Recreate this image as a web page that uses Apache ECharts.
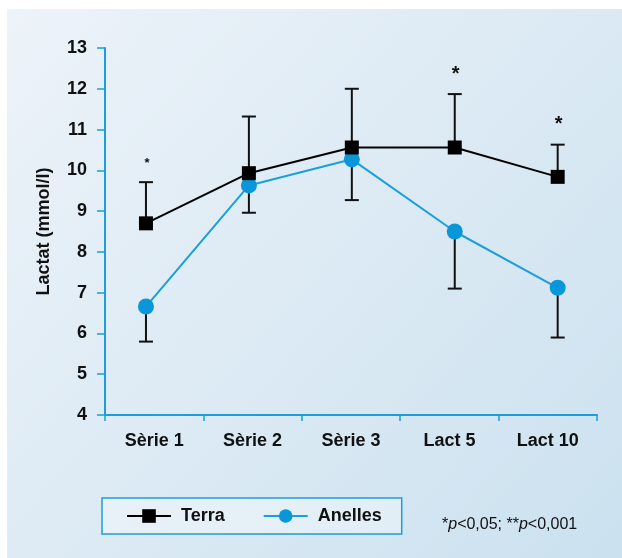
<!DOCTYPE html>
<html>
<head>
<meta charset="utf-8">
<script src="https://cdn.jsdelivr.net/npm/echarts@6/dist/echarts.min.js"></script>
<style>
  html, body { margin: 0; padding: 0; background: #fff; }
  #chart { width: 622px; height: 558px; }
</style>
</head>
<body>
<div id="chart"></div>
<script>
// categories and values
var categories = ['Sèrie 1', 'Sèrie 2', 'Sèrie 3', 'Lact 5', 'Lact 10']
var terra = [8.7, 9.93, 10.56, 10.56, 9.84]
var terraUpper = [9.71, 11.32, 12.0, 11.87, 10.63]
var anelles = [6.66, 9.63, 10.27, 8.5, 7.12]
var anellesLower = [5.8, 8.96, 9.27, 7.1, 5.9]
var signif = ['*', '', '', '*', '*']
var yTicks = [4, 5, 6, 7, 8, 9, 10, 11, 12, 13]

var blue = '#1a9fdc'
var fontFam = 'Liberation Sans, Arial, sans-serif'
// asterisk size: the first one is printed smaller
var sigFont = [13, 20, 20, 20, 20]

var chart = echarts.init(document.getElementById('chart'))

// error bar renderer: value[0] = x, value[1] = mean, value[2] = bound
function errorBar (params, api) {
  var p0 = api.coord([api.value(0), api.value(1)])
  var p1 = api.coord([api.value(0), api.value(2)])
  var half = 7
  var children = [
    { type: 'line', shape: { x1: p0[0], y1: p0[1], x2: p1[0], y2: p1[1] }, style: { stroke: '#111', lineWidth: 2 } },
    { type: 'line', shape: { x1: p1[0] - half, y1: p1[1], x2: p1[0] + half, y2: p1[1] }, style: { stroke: '#111', lineWidth: 2 } }
  ]
  var s = signif[params.dataIndex]
  if (params.seriesName === 'errTerra' && s) {
    children.push({
      type: 'text',
      x: p1[0] + 1,
      y: p1[1] - (sigFont[params.dataIndex] > 14 ? 10 : 12),
      style: {
        text: s,
        fill: '#111',
        font: 'bold ' + sigFont[params.dataIndex] + 'px ' + fontFam,
        align: 'center',
        verticalAlign: 'bottom'
      }
    })
  }
  return { type: 'group', children: children }
}

var options = {
  animation: false,
  textStyle: { fontFamily: fontFam },
  graphic: [
    {
      type: 'rect',
      left: 7,
      top: 9,
      shape: { width: 615, height: 549 },
      style: {
        fill: new echarts.graphic.LinearGradient(0, 0, 1, 1, [
          { offset: 0, color: '#edf3f9' },
          { offset: 1, color: '#cbe1ef' }
        ])
      },
      z: -10
    },
    {
      type: 'text',
      left: 442,
      top: 517,
      style: {
        text: '*{i|p}<0,05; **{i|p}<0,001',
        font: '16px ' + fontFam,
        fill: '#111',
        rich: {
          i: { fontStyle: 'italic', fontSize: 16, fontFamily: fontFam, fill: '#111' }
        }
      }
    }
  ],
  legend: {
    data: ['Terra', 'Anelles'],
    left: 102,
    top: 498,
    padding: [9, 20, 9, 24],
    itemGap: 38,
    itemWidth: 44,
    itemHeight: 17,
    borderColor: blue,
    borderWidth: 1.5,
    borderRadius: 0,
    backgroundColor: 'rgba(255,255,255,0.35)',
    textStyle: { color: '#111', fontSize: 18, fontWeight: 'bold', fontFamily: fontFam, padding: [0, 0, 0, 5] }
  },
  grid: { left: 105, top: 48, width: 492, height: 367 },
  xAxis: [
    {
      type: 'category',
      data: categories,
      axisLine: { lineStyle: { color: blue, width: 2 } },
      axisTick: { show: true, length: 6, lineStyle: { color: blue, width: 1.5 } },
      axisLabel: { margin: 17, color: '#111', fontSize: 18, fontWeight: 'bold' }
    },
    {
      type: 'value',
      min: -0.398,
      max: 4.382,
      show: false
    }
  ],
  yAxis: {
    type: 'value',
    min: yTicks[0],
    max: yTicks[yTicks.length - 1],
    interval: 1,
    name: 'Lactat (mmol/l)',
    nameLocation: 'middle',
    nameGap: 52,
    nameTextStyle: { color: '#111', fontSize: 18, fontWeight: 'bold' },
    axisLine: { show: true, onZero: false, lineStyle: { color: blue, width: 2 } },
    axisTick: { show: true, length: 8, lineStyle: { color: blue, width: 1.5 } },
    axisLabel: { margin: 18, color: '#111', fontSize: 18, fontWeight: 'bold' },
    splitLine: { show: false }
  },
  series: [
    {
      name: 'errTerra',
      type: 'custom',
      xAxisIndex: 1,
      renderItem: errorBar,
      data: terra.map(function (v, i) { return [i, v, terraUpper[i]] }),
      z: 1
    },
    {
      name: 'errAnelles',
      type: 'custom',
      xAxisIndex: 1,
      renderItem: errorBar,
      data: anelles.map(function (v, i) { return [i, v, anellesLower[i]] }),
      z: 1
    },
    {
      name: 'Anelles',
      type: 'line',
      xAxisIndex: 1,
      data: anelles.map(function (v, i) { return [i, v] }),
      symbol: 'circle',
      symbolSize: 16,
      itemStyle: { color: '#0a97d9' },
      lineStyle: { color: blue, width: 2 },
      z: 3
    },
    {
      name: 'Terra',
      type: 'line',
      xAxisIndex: 1,
      data: terra.map(function (v, i) { return [i, v] }),
      symbol: 'rect',
      symbolSize: 14,
      itemStyle: { color: '#000' },
      lineStyle: { color: '#000', width: 2 },
      z: 4
    }
  ]
}

chart.setOption(options, true)
</script>
</body>
</html>
